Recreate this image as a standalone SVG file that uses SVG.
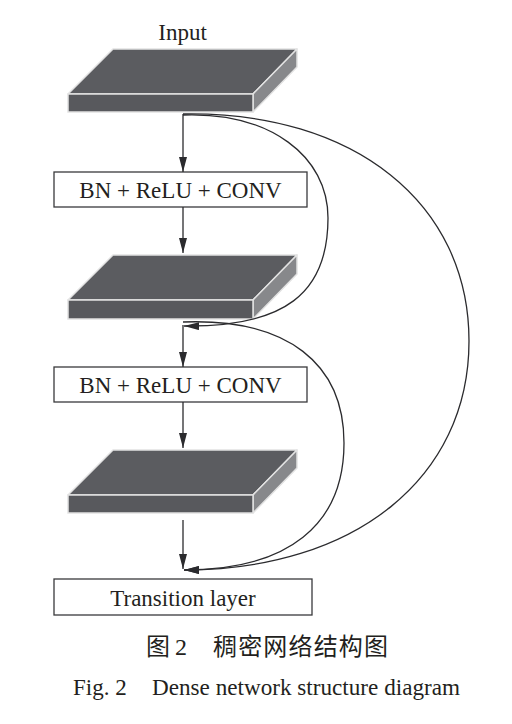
<svg xmlns="http://www.w3.org/2000/svg" width="512" height="724" viewBox="0 0 512 724">
  <defs>
    <marker id="arr" markerUnits="userSpaceOnUse" markerWidth="16" markerHeight="8" refX="15" refY="4" orient="auto">
      <path d="M0,0 L15,4 L0,8 Z" fill="#2b2b2e"/>
    </marker>
  </defs>
  <style>
    .top { fill: #5b5c60; stroke: #e2e2e2; stroke-width: 1.5; stroke-linejoin: round; }
    .front { fill: #58595d; stroke: #e2e2e2; stroke-width: 1.5; }
    .side { fill: #87888b; stroke: #e2e2e2; stroke-width: 1.5; stroke-linejoin: round; }
    .box { fill: #ffffff; stroke: #3a3a3c; stroke-width: 1.3; }
    .lbl { font-family: "Liberation Serif", "Times New Roman", serif; font-size: 23px; fill: #231f20; }
    .cjk { font-family: "Liberation Serif", "Noto Sans CJK SC", sans-serif; font-size: 24px; fill: #231f20; }
    .ln { fill: none; stroke: #2b2b2e; stroke-width: 1.3; }
  </style>
  <rect width="512" height="724" fill="#ffffff"/>

  <g id="input-label">
    <text class="lbl" x="182.5" y="40" text-anchor="middle">Input</text>
  </g>

  <g id="slab1">
    <polygon class="top" points="68,94 113,49 297,49 253,94"/>
    <polygon class="side" points="253,94 297,49 297,67 253,112"/>
    <rect class="front" x="68" y="94" width="185" height="18"/>
  </g>

  <g id="box1">
    <rect class="box" x="54" y="172" width="253" height="35"/>
    <text class="lbl" x="180.5" y="198" text-anchor="middle">BN + ReLU + CONV</text>
  </g>

  <g id="slab2">
    <polygon class="top" points="68,300 113,255 297,255 253,300"/>
    <polygon class="side" points="253,300 297,255 297,274 253,319"/>
    <rect class="front" x="68" y="300" width="185" height="19"/>
  </g>

  <g id="box2">
    <rect class="box" x="54" y="367" width="253" height="35"/>
    <text class="lbl" x="180.5" y="393" text-anchor="middle">BN + ReLU + CONV</text>
  </g>

  <g id="slab3">
    <polygon class="top" points="68,495 113,450 297,450 253,495"/>
    <polygon class="side" points="253,495 297,450 297,468 253,513"/>
    <rect class="front" x="68" y="495" width="185" height="18"/>
  </g>

  <g id="transition">
    <rect class="box" x="54" y="579" width="258" height="36"/>
    <text class="lbl" x="183" y="606" text-anchor="middle">Transition layer</text>
  </g>

  <g id="connectors">
    <path class="ln" d="M183,114 L183,172" marker-end="url(#arr)"/>
    <path class="ln" d="M183,207 L183,253" marker-end="url(#arr)"/>
    <path class="ln" d="M183,325 L183,367" marker-end="url(#arr)"/>
    <path class="ln" d="M183,402 L183,448" marker-end="url(#arr)"/>
    <path class="ln" d="M183,520 L183,569" marker-end="url(#arr)"/>
    <path class="ln" d="M183,115 C270,112 328,156 328,218 C328,294 284,327 184,326" marker-end="url(#arr)"/>
    <path class="ln" d="M183,114 C355,111 469,204 469,341 C469,478 355,570 184,570" marker-end="url(#arr)"/>
    <path class="ln" d="M183,322 C288,318 344,364 344,443 C344,525 288,570 184,570" marker-end="url(#arr)"/>
  </g>

  <g id="caption">
    <text class="cjk" x="146" y="655">图</text>
    <text class="lbl" x="175" y="655" style="font-size:24px">2</text>
    <text class="cjk" x="213" y="655" textLength="175" lengthAdjust="spacing">稠密网络结构图</text>
    <text class="lbl" x="73" y="695">Fig. 2</text>
    <text class="lbl" x="152" y="695" textLength="308" lengthAdjust="spacingAndGlyphs">Dense network structure diagram</text>
  </g>
</svg>
